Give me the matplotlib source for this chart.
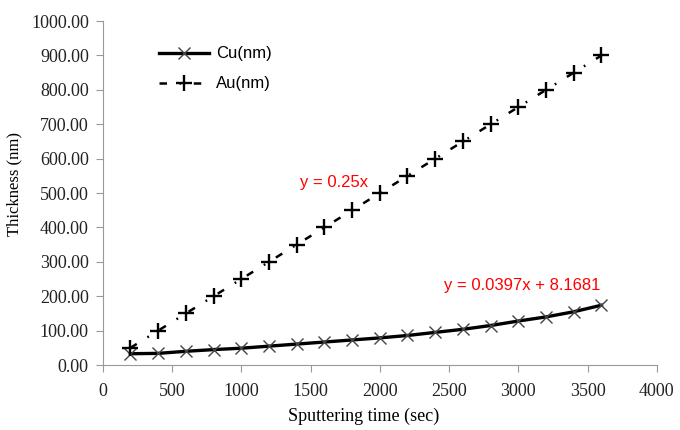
import matplotlib
matplotlib.use("Agg")
import matplotlib.pyplot as plt

time_s = [200, 400, 600, 800, 1000, 1200, 1400, 1600, 1800, 2000,
          2200, 2400, 2600, 2800, 3000, 3200, 3400, 3600]
cu_nm = [33, 34, 40, 45, 49, 55, 61, 67, 73, 79,
         86, 95, 104, 115, 128, 140, 155, 174]
au_nm = [50, 100, 150, 200, 250, 300, 350, 400, 450, 500,
         550, 600, 650, 700, 750, 800, 850, 900]
cu_label = "Cu(nm)"
au_label = "Au(nm)"
cu_eq = "y = 0.0397x + 8.1681"
au_eq = "y = 0.25x"
x_label = "Sputtering time (sec)"
y_label = "Thickness (nm)"

fig = plt.figure(figsize=(6.8, 4.3), dpi=100)
ax = fig.add_axes([0.151, 0.151, 0.815, 0.8])

ax.plot(time_s, cu_nm, color="black", lw=2.4, marker="x", ms=8,
        mec="#444444", mew=1.0, label=cu_label)
ax.plot(time_s, au_nm, color="black", lw=1.8, linestyle=(0, (3, 5, 0.7, 5)),
        marker="+", ms=11, mew=1.7, label=au_label)

ax.set_xlim(0, 4000)
ax.set_ylim(0, 1000)
ax.set_xticks(range(0, 4001, 500))
ax.set_yticks(range(0, 1001, 100))
ax.set_yticklabels([f"{v:.2f}" for v in range(0, 1001, 100)])

serif = ["Liberation Serif", "DejaVu Serif"]
for lab in ax.get_xticklabels() + ax.get_yticklabels():
    lab.set_family(serif)
    lab.set_fontsize(13)
    lab.set_color("#222222")

ax.set_xlabel(x_label, family=serif, fontsize=13)
ax.xaxis.set_label_coords(0.47, -0.125)
ax.set_ylabel(y_label, family=serif, fontsize=12)
ax.yaxis.set_label_coords(-0.145, 0.525)

for s in ["top", "right"]:
    ax.spines[s].set_visible(False)
for s in ["left", "bottom"]:
    ax.spines[s].set_color("#999999")
ax.tick_params(axis="both", direction="out", color="#999999", length=5)
ax.tick_params(axis="x", pad=8)
ax.tick_params(axis="y", pad=5)

leg = ax.legend(loc="upper left", bbox_to_anchor=(0.075, 0.97), frameon=False,
                prop={"family": "Liberation Sans", "size": 12},
                handlelength=3.0, handletextpad=0.4, labelspacing=0.9)

ax.text(1668, 532, au_eq, color="red", fontsize=12, family="Liberation Sans",
        ha="center", va="center")
ax.text(3025, 232, cu_eq, color="red", fontsize=12, family="Liberation Sans",
        ha="center", va="center")

fig.savefig("out.png", dpi=100)
